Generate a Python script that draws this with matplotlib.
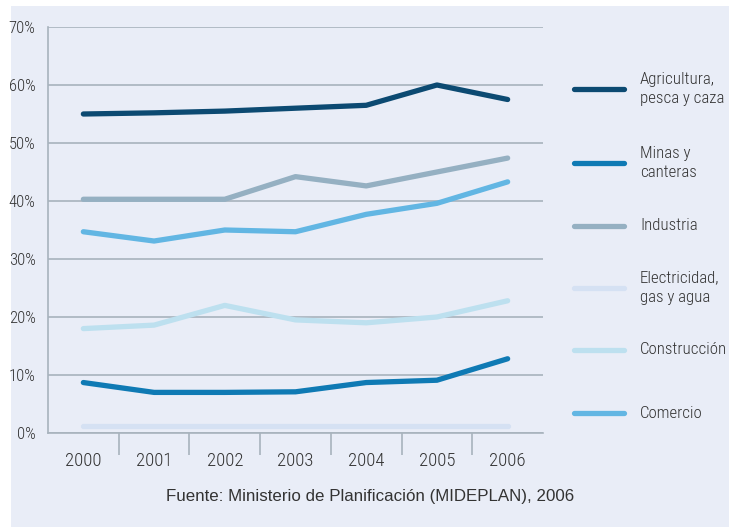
import matplotlib.pyplot as plt
from matplotlib.lines import Line2D
from matplotlib.patches import Rectangle

# data (percent)
years = ["2000", "2001", "2002", "2003", "2004", "2005", "2006"]
agricultura = [55.0, 55.2, 55.5, 56.0, 56.5, 60.0, 57.5]
minas = [8.7, 7.0, 7.0, 7.1, 8.7, 9.1, 12.8]
industria = [40.3, 40.3, 40.3, 44.2, 42.6, 45.0, 47.4]
electricidad = [1.2, 1.2, 1.2, 1.2, 1.2, 1.2, 1.2]
construccion = [18.0, 18.6, 22.0, 19.5, 19.0, 20.0, 22.8]
comercio = [34.7, 33.1, 35.0, 34.7, 37.7, 39.6, 43.3]
y_ticks = [0, 10, 20, 30, 40, 50, 60, 70]

series = [
    ("Agricultura,\npesca y caza", agricultura, "#0c4a72"),
    ("Minas y\ncanteras", minas, "#0f7ab4"),
    ("Industria", industria, "#95b0c2"),
    ("Electricidad,\ngas y agua", electricidad, "#d5e1f3"),
    ("Construcción", construccion, "#bde0ef"),
    ("Comercio", comercio, "#62b6e3"),
]
# draw order: light lines first so the dark ones sit on top
draw_order = [3, 4, 5, 2, 1, 0]

narrow = ["Roboto Condensed", "Asap Condensed", "Archivo Narrow", "DejaVu Sans"]
bg = "#e9edf7"
grid_col = "#a8b3bd"
txt = "#333333"

fig = plt.figure(figsize=(7.29, 5.27), dpi=100)
fig.patch.set_facecolor("white")
fig.add_artist(Rectangle((11 / 729, 0), 1, 1 - 6 / 527, transform=fig.transFigure,
                         facecolor=bg, edgecolor="none", zorder=-10))

ax = fig.add_axes([48 / 729, 1 - 433 / 527, 495 / 729, 406 / 527])
ax.set_facecolor("none")

x = list(range(len(years)))
for i in draw_order:
    label, vals, col = series[i]
    ax.plot(x, vals, color=col, lw=3.8, solid_capstyle="round",
            solid_joinstyle="round", zorder=3)

ax.set_xlim(-0.5, 6.5)
ax.set_ylim(0, 70)
ax.set_yticks(y_ticks)
ax.set_yticklabels([f"{v}%" for v in y_ticks], family=narrow, weight="light",
                   fontsize=12, color=txt)
ax.tick_params(axis="y", length=0, pad=9)
ax.yaxis.grid(True, color=grid_col, lw=1.2)
ax.set_axisbelow(True)

# year labels at category centres, tick marks between categories
ax.set_xticks([i + 0.5 for i in range(6)])
ax.set_xticklabels([])
ax.tick_params(axis="x", length=16, width=1.2, color=grid_col, direction="out")
for i, yr in enumerate(years):
    ax.text(i, -4.9, yr, ha="center", va="center", family=narrow, weight="light",
            fontsize=13.5, color=txt)

for s in ["top", "right"]:
    ax.spines[s].set_visible(False)
for s in ["left", "bottom"]:
    ax.spines[s].set_color(grid_col)
    ax.spines[s].set_linewidth(1.2)

# legend drawn by hand on the right
legend_y = [89, 163, 226, 288, 350, 413]
for (label, vals, col), ly in zip(series, legend_y):
    fy = 1 - ly / 527
    fig.add_artist(Line2D([574 / 729, 624 / 729], [fy, fy], transform=fig.transFigure,
                          color=col, lw=3.8, solid_capstyle="round"))
    fig.text(640 / 729, fy, label, ha="left", va="center", family=narrow,
             weight="light", fontsize=12.2, color=txt, linespacing=1.4)

fig.text(370 / 729, 1 - 497 / 527, "Fuente: Ministerio de Planificación (MIDEPLAN), 2006",
         ha="center", va="center", family=["Liberation Sans", "DejaVu Sans"],
         fontsize=12.2, color=txt)

fig.savefig("out.png", dpi=100, facecolor=fig.get_facecolor())
